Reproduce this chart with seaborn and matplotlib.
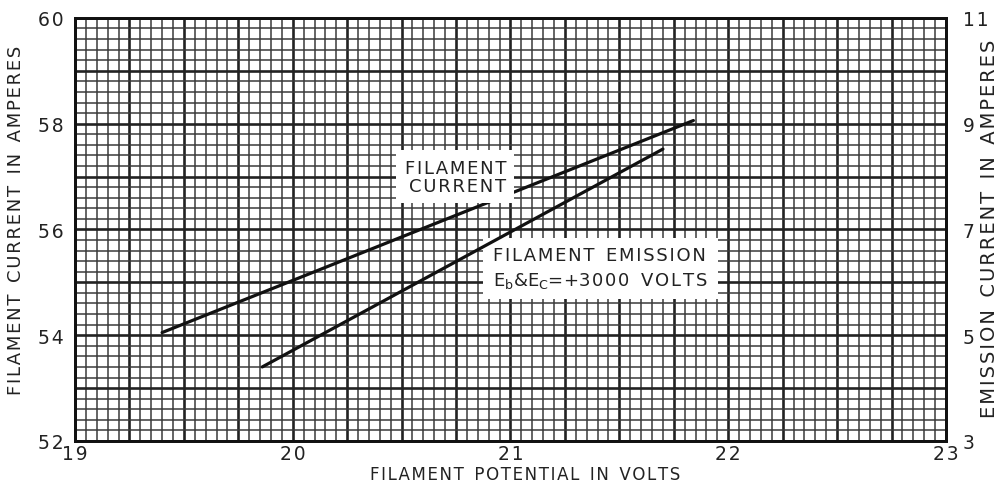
import numpy as np
import pandas as pd
import matplotlib
matplotlib.use("Agg")
import matplotlib.pyplot as plt
import seaborn as sns

# Data
fil_volts = [19.40, 21.84]
fil_current = [54.05, 58.06]          # amperes (left axis)
emi_volts = [19.86, 21.70]
emi_current = [4.40, 8.52]            # amperes (right axis)

x_ticks = [19, 20, 21, 22, 23]
left_ticks = [52, 54, 56, 58, 60]
right_ticks = [3, 5, 7, 9, 11]

sns.set_style("white")
plt.rcParams['font.family'] = ['DejaVu Sans']

HS = "\u200a"  # hair space for letter spacing


def spaced(s):
    return "  ".join(HS.join(w) for w in s.split(" "))


W, H = 1005, 485
fig = plt.figure(figsize=(W / 100, H / 100), dpi=100)
ax = fig.add_axes([0.0746, 0.0887, 0.8667, 0.8723])
ax2 = ax.twinx()

df_f = pd.DataFrame({"volts": fil_volts, "amps": fil_current})
df_e = pd.DataFrame({"volts": emi_volts, "amps": emi_current})

sns.lineplot(data=df_f, x="volts", y="amps", ax=ax, color="#111111", lw=2.3, zorder=5)
sns.lineplot(data=df_e, x="volts", y="amps", ax=ax2, color="#111111", lw=2.3, zorder=5)

ax.set_xlim(19, 23)
ax.set_ylim(52, 60)
ax2.set_ylim(3, 11)

ax.set_xticks(x_ticks)
ax.set_yticks(left_ticks)
ax2.set_yticks(right_ticks)

# graph-paper grid
for x in np.arange(19, 23.0001, 0.05):
    major = abs((x - 19) / 0.25 - round((x - 19) / 0.25)) < 1e-6
    ax.axvline(x, color="#222222" if major else "#3a3a3a", lw=1.9 if major else 1.1, zorder=1)
for y in np.arange(52, 60.0001, 0.2):
    major = abs(y - round(y)) < 1e-6
    ax.axhline(y, color="#222222" if major else "#3a3a3a", lw=1.9 if major else 1.1, zorder=1)

ax.tick_params(axis="both", length=0, labelsize=13.5, colors="#222222")
ax.tick_params(axis="y", pad=8)
ax.tick_params(axis="x", pad=2)
ax2.tick_params(axis="y", length=0, labelsize=13.5, colors="#222222", pad=12)
ax.set_xticklabels([spaced(str(v)) for v in x_ticks])
ax.set_yticklabels([spaced(str(v)) for v in left_ticks])
ax2.set_yticklabels([spaced(str(v)) for v in right_ticks])
ax.set_xlabel("")
ax.set_ylabel("")
ax2.set_ylabel("")

for a in (ax, ax2):
    for s in a.spines.values():
        s.set_linewidth(2.0)
        s.set_color("#111111")

fig.text(525 / W, 1 - 475 / H, spaced("FILAMENT POTENTIAL IN VOLTS"), fontsize=12,
         color="#222222", ha="center", va="center")
fig.text(16 / W, 1 - 220 / H, spaced("FILAMENT CURRENT IN AMPERES"), fontsize=13,
         color="#222222", ha="center", va="center", rotation=90)
fig.text(989 / W, 1 - 229 / H, spaced("EMISSION CURRENT IN AMPERES"), fontsize=14,
         color="#222222", ha="center", va="center", rotation=90)

ax.text(20.98, 57.0, spaced("FILAMENT") + "\n" + spaced("CURRENT"), ha="right", va="center",
        fontsize=13, color="#222222", linespacing=1.0, zorder=6,
        bbox=dict(facecolor="white", edgecolor="none", pad=6))
emission_label = (spaced("FILAMENT EMISSION") + "\n" +
                  "E$_\\mathrm{b}$&E$_\\mathrm{C}$=+" + spaced("3000 VOLTS"))
ax.text(20.92, 55.27, emission_label,
        ha="left", va="center", fontsize=13, color="#222222", linespacing=1.35, zorder=6,
        bbox=dict(facecolor="white", edgecolor="none", pad=7))

fig.savefig("out.png", dpi=100)
